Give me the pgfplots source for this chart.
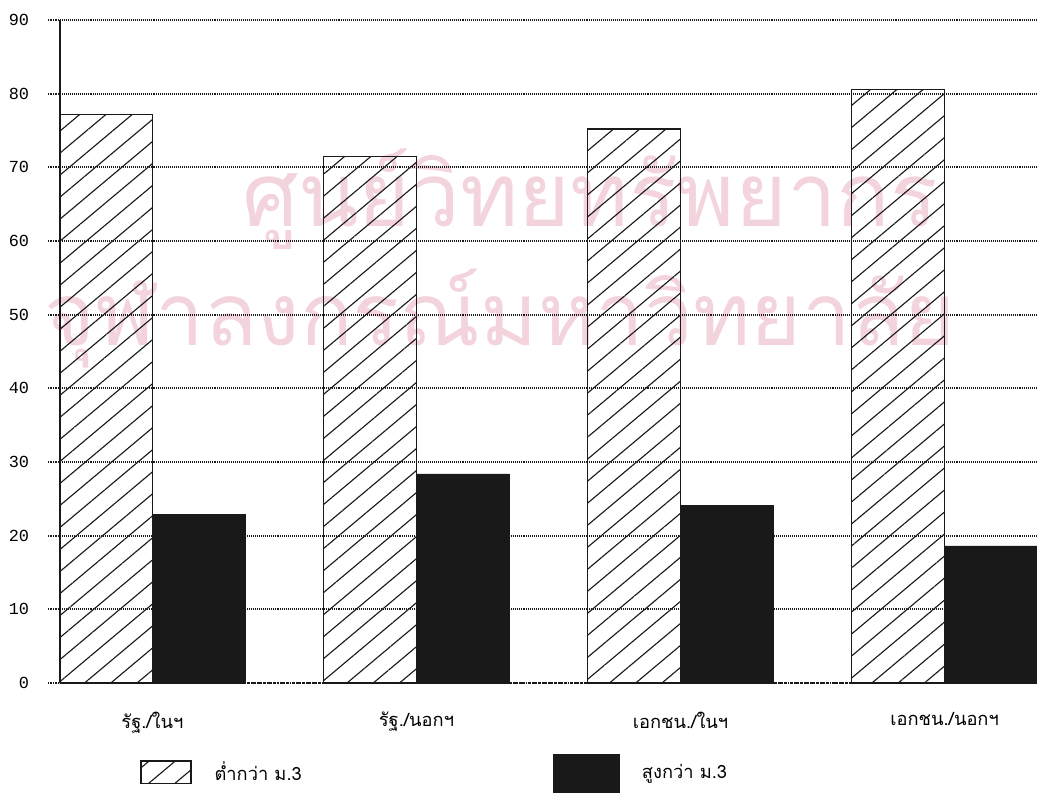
\documentclass[border=0pt]{standalone}
\usepackage{fontspec}
\setmainfont{Liberation Mono}
\newfontfamily\thaifont[Script=Thai]{Loma}
\usepackage{pgfplots}
\usepackage{pgfplotstable}
\pgfplotsset{compat=1.18}
\usetikzlibrary{patterns.meta}

\definecolor{wm}{RGB}{243,212,221}
\definecolor{ink}{RGB}{25,25,25}

\pgfplotsset{
  lowleg/.style={legend image code/.code={\draw[##1] (0cm,-0.28cm) rectangle (1.25cm,0.28cm);}},
  highleg/.style={legend image code/.code={\draw[##1] (0cm,-0.5cm) rectangle (1.65cm,0.45cm);}},
}

% per cent of each group, below / above M.3
\pgfplotstableread{
g low high
0 77.2 22.9
1 71.5 28.4
2 75.2 24.1
3 80.6 18.6
}\datatable

\begin{document}
\begin{tikzpicture}
\useasboundingbox (-1.5cm,-2.875cm) rectangle (24.425cm,17.075cm);
\clip (-1.5cm,-2.875cm) rectangle (24.425cm,17.075cm);
% faint library watermark behind the chart
\node[text=wm, font=\thaifont\fontsize{63}{63}\selectfont] at (13.25cm,12.1cm) {ศูนย์วิทยทรัพยากร};
\node[text=wm, font=\thaifont\fontsize{62}{62}\selectfont] at (11.0cm,9.1cm) {จุฬาลงกรณ์มหาวิทยาลัย};
\begin{axis}[%
  at={(0,0)}, anchor=south west,
  scale only axis, width=24.425cm, height=16.575cm,
  xmin=-0.35, xmax=3.35, ymin=0, ymax=90,
  axis lines=left, axis line style={-},
  y axis line style={line width=1pt, ink},
  x axis line style={densely dotted, line width=1.3pt, ink},
  ybar=0pt, bar width=2.32cm,
  ytick={0,10,...,90},
  ymajorgrids, grid style={densely dotted, line width=1.3pt, ink},
  ytick style={densely dotted, line width=1.3pt, ink},
  tick align=outside, major tick length=0.3cm,
  xtick={0,1,2,3}, xtick style={draw=none},
  xticklabels={รัฐ./ในฯ, รัฐ./นอกฯ, เอกชน./ในฯ, เอกชน./นอกฯ},
  xticklabel style={font=\thaifont\fontsize{13}{15}\selectfont, yshift=-0.3cm},
  yticklabel style={font=\fontsize{12}{14}\selectfont, xshift=-0.35cm},
  /pgf/number format/assume math mode=true,
  legend style={at={(0.082,-0.136)}, anchor=west, draw=none, fill=none,
    inner sep=0pt, legend columns=2,
    font=\thaifont\fontsize{13}{15}\selectfont,
    /tikz/every odd column/.append style={column sep=0.5cm},
    /tikz/every even column/.append style={column sep=6.2cm}},
]
\addplot[draw=ink, line width=1pt, fill=white,
  pattern={Lines[angle=40, distance=12pt, line width=0.8pt]}, pattern color=ink, lowleg]
  table[x=g, y=low] {\datatable};
\addlegendentry{ต่ำกว่า ม.3}
\addplot[draw=ink, fill=ink, highleg]
  table[x=g, y=high] {\datatable};
\addlegendentry{สูงกว่า ม.3}
\end{axis}
\end{tikzpicture}
\end{document}
